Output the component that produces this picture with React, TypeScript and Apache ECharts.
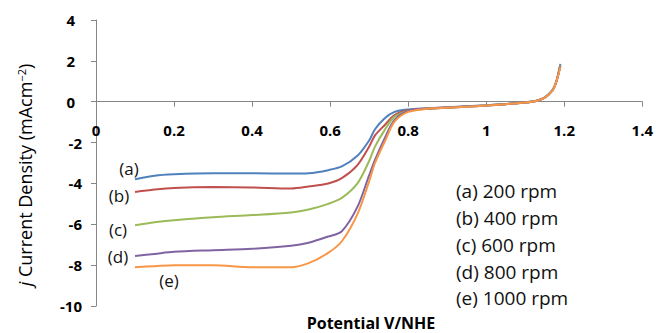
import React, { useEffect, useRef } from "react";
import * as echarts from "echarts";

const potential = [0.1, 0.15, 0.2, 0.3, 0.4, 0.5, 0.545, 0.595, 0.63, 0.67, 0.7, 0.715, 0.74, 0.765, 0.8, 0.85, 0.9, 0.95, 1.0, 1.05, 1.1, 1.13, 1.15, 1.17, 1.18, 1.19];

const rpm200 = [-3.8, -3.62, -3.55, -3.5, -3.5, -3.52, -3.5, -3.35, -3.17, -2.65, -1.9, -1.35, -0.81, -0.5, -0.38, -0.32, -0.27, -0.22, -0.17, -0.11, -0.03, 0.06, 0.22, 0.58, 1.0, 1.85];
const rpm400 = [-4.42, -4.3, -4.22, -4.18, -4.2, -4.25, -4.15, -4.0, -3.74, -3.1, -2.2, -1.65, -1.14, -0.65, -0.42, -0.33, -0.28, -0.23, -0.18, -0.12, -0.04, 0.05, 0.2, 0.56, 1.0, 1.8];
const rpm600 = [-6.05, -5.9, -5.8, -5.65, -5.55, -5.42, -5.28, -5.0, -4.71, -4.0, -2.9, -2.2, -1.38, -0.73, -0.45, -0.34, -0.29, -0.24, -0.18, -0.12, -0.04, 0.05, 0.2, 0.55, 1.0, 1.8];
const rpm800 = [-7.55, -7.45, -7.35, -7.27, -7.2, -7.05, -6.9, -6.6, -6.34, -5.15, -3.6, -2.85, -1.79, -0.89, -0.45, -0.34, -0.29, -0.24, -0.19, -0.12, -0.04, 0.05, 0.2, 0.55, 1.0, 1.75];
const rpm1000 = [-8.1, -8.05, -8.0, -8.0, -8.1, -8.1, -7.9, -7.4, -6.83, -5.5, -3.9, -3.0, -1.95, -0.98, -0.5, -0.35, -0.3, -0.25, -0.19, -0.12, -0.04, 0.05, 0.2, 0.55, 1.0, 1.7];

const seriesNames = ["(a) 200 rpm", "(b) 400 rpm", "(c) 600 rpm", "(d) 800 rpm", "(e) 1000 rpm"];
const curveTags = ["(a)", "(b)", "(c)", "(d)", "(e)"];
const seriesValues = [rpm200, rpm400, rpm600, rpm800, rpm1000];
const colors = ["#4F81BD", "#C0504D", "#9BBB59", "#8064A2", "#F79646"];

const xTicks = { min: 0, max: 1.4, interval: 0.2 };
const yTicks = { min: -10, max: 4, interval: 2 };

export default function App() {
  const ref = useRef<HTMLDivElement>(null);
  useEffect(() => {
    if (!ref.current) return;
    const chart = echarts.init(ref.current, undefined, { renderer: "svg" });
    const font = "'Open Sans', Lato, sans-serif";
    const tagPos = [
      [129, 168],
      [119, 195],
      [118, 229],
      [118, 256],
      [169, 280],
    ];
    const legendY = [191, 218, 245, 272, 298];
    const gridTop = 20;
    const gridBottom = 27;
    const plotH = 333 - gridTop - gridBottom;
    const zeroFromBottom = (plotH * (0 - yTicks.min)) / (yTicks.max - yTicks.min);
    chart.setOption({
      animation: false,
      backgroundColor: "#ffffff",
      grid: { left: 96, right: 10, top: gridTop, bottom: gridBottom, containLabel: false },
      xAxis: {
        type: "value",
        min: xTicks.min,
        max: xTicks.max,
        interval: xTicks.interval,
        position: "bottom",
        offset: -zeroFromBottom,
        axisLine: { onZero: false, lineStyle: { color: "#868686", width: 1 } },
        axisTick: { show: true, inside: false, length: 5, lineStyle: { color: "#868686" } },
        splitLine: { show: false },
        axisLabel: { margin: 21, color: "#000", fontSize: 15, fontWeight: "bold", fontFamily: font },
      },
      yAxis: {
        type: "value",
        min: yTicks.min,
        max: yTicks.max,
        interval: yTicks.interval,
        axisLine: { show: true, lineStyle: { color: "#868686", width: 1 } },
        axisTick: { show: true, length: 5, lineStyle: { color: "#868686" } },
        splitLine: { show: false },
        axisLabel: {
          margin: 14,
          color: "#000",
          fontSize: 15,
          fontWeight: "bold",
          fontFamily: font,
          formatter: (v: number) => (v >= 0 ? `{p|${v}}` : `${v}`),
          rich: { p: { fontSize: 15, fontWeight: "bold", fontFamily: font, color: "#000", padding: [0, 7, 0, 0] } },
        },
      },
      series: seriesValues.map((vals, i) => ({
        name: seriesNames[i],
        type: "line",
        data: potential.map((p, j) => [p, vals[j]]),
        smooth: 0.3,
        showSymbol: false,
        lineStyle: { color: colors[i], width: 2 },
        z: 2 + i,
      })),
      graphic: [
        ...curveTags.map((t, i) => ({
          type: "text",
          x: tagPos[i][0],
          y: tagPos[i][1],
          style: { text: t, fill: "#111", font: `17px ${font}`, textAlign: "center", textVerticalAlign: "middle" },
        })),
        ...seriesNames.map((t, i) => ({
          type: "text",
          x: 456,
          y: legendY[i],
          style: { text: t, fill: "#111", font: `19px ${font}`, textAlign: "left", textVerticalAlign: "middle" },
        })),
        {
          type: "text",
          x: 371,
          y: 323,
          style: { text: "Potential V/NHE", fill: "#000", font: `bold 16px ${font}`, textAlign: "center", textVerticalAlign: "middle" },
        },
        {
          type: "text",
          x: 25,
          y: 175,
          rotation: Math.PI / 2,
          style: {
            text: "{i|j}{n| Current Density (mAcm}{s|−2}{n|)}",
            fill: "#000",
            textAlign: "center",
            textVerticalAlign: "middle",
            rich: {
              i: { fontStyle: "italic", fontSize: 18, fontFamily: font, fill: "#000" },
              n: { fontSize: 18, fontFamily: font, fill: "#000" },
              s: { fontSize: 11, fontFamily: font, fill: "#000", verticalAlign: "top", padding: [0, 0, 8, 0] },
            },
          },
        },
      ],
    });
    return () => chart.dispose();
  }, []);
  return <div ref={ref} style={{ width: 656, height: 333, position: "absolute", left: 0, top: 0 }} />;
}
